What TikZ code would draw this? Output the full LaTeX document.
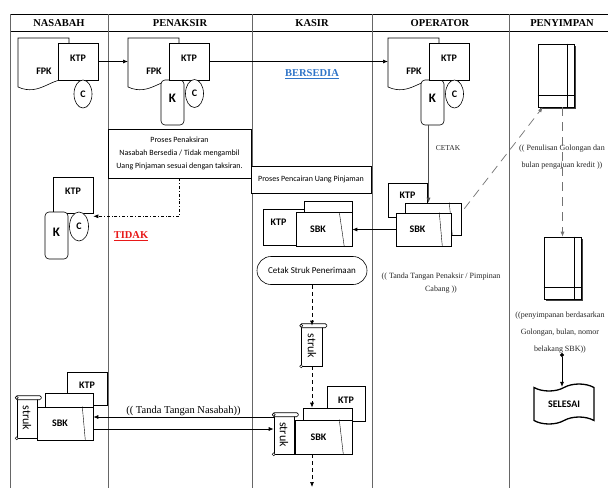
\documentclass[tikz,border=0pt]{standalone}
\usepackage{fontspec}
\setmainfont{Liberation Serif}
\newfontfamily\calibfont{Carlito}
\usepackage{tikz}
\usetikzlibrary{positioning, arrows.meta, calc, shapes.geometric, shapes.symbols, shadows}

\definecolor{linkblue}{RGB}{46,116,200}
\definecolor{tidakred}{RGB}{232,24,24}

\begin{document}
\begin{tikzpicture}[
  x=1pt, y=-1pt,
  >={Latex[length=5pt,width=4pt]},
  lane/.style={draw=black!60, line width=0.7pt},
  head/.style={font=\bfseries\fontsize{10.5}{12}\selectfont},
  tag/.style={inner sep=0pt, font=\calibfont\bfseries\fontsize{10}{11}\selectfont},
  card/.style={draw, fill=white, line width=0.6pt, inner sep=0pt, font=\calibfont\bfseries\fontsize{10}{11}\selectfont},
  ktpcard/.style={card, text depth=7pt},
  kcard/.style={card, rounded corners=4pt, minimum width=23pt, minimum height=45pt, text depth=9pt, font=\calibfont\bfseries\fontsize{13}{14}\selectfont},
  ccard/.style={card, ellipse, minimum width=18pt, minimum height=28pt},
  sheet/.style={card, minimum width=56pt, minimum height=34pt},
  scroll/.style={draw, fill=white, line width=0.6pt, inner sep=0pt, minimum width=21pt, minimum height=40pt, font=\calibfont\fontsize{12}{12}\selectfont},
  proc/.style={draw, fill=white, line width=0.6pt, inner sep=0pt, align=center, font=\calibfont\fontsize{8}{13}\selectfont},
  note/.style={align=center, inner sep=0pt, text=black!85, font=\fontsize{8}{17}\selectfont},
  store/.style={draw, fill=white, line width=0.6pt, inner sep=0pt, minimum width=36pt, minimum height=63pt, drop shadow={shadow xshift=1.5pt, shadow yshift=-1.5pt, fill=black!75, opacity=1}},
  arr/.style={->, line width=0.7pt},
  dashline/.style={arr, dash pattern=on 4pt off 3pt},
  longdash/.style={arr, draw=black!55, dash pattern=on 9pt off 6pt}
]
\path[use as bounding box, fill=white] (0,0) rectangle (608,488);

% swimlanes
\draw[lane, draw=black] (10,14) -- (608,14) (10,31) -- (608,31);
\foreach \x in {10,108,252,372,509}
  \draw[lane] (\x,14) -- (\x,488);
\node[head] (hNasabah) at (59,23) {NASABAH};
\node[head] (hPenaksir) at (180,23) {PENAKSIR};
\node[head] (hKasir) at (312,23) {KASIR};
\node[head] (hOperator) at (440,23) {OPERATOR};
\node[head] (hPenyimpan) at (562,23) {PENYIMPAN};

% FPK forms
\foreach \nm/\x in {A/18, B/128, C/388} {
  \draw[line width=0.6pt, fill=white] (\x,38) -- (\x+51,38) -- (\x+51,80) .. controls (\x+34,76) and (\x+22,97) .. (\x,87) -- cycle;
  \node[tag] (fpk\nm) at (\x+26,71) {FPK};
  \coordinate (doc\nm) at (\x,61.5);
}
\node[ktpcard, minimum width=40pt, minimum height=37pt] (ktpA) at (78,61.5) {KTP};
\node[ccard] (cA) at (83,94) {C};

\node[kcard] (kB) at (172.5,102.5) {K};
\node[ktpcard, minimum width=40pt, minimum height=37pt] (ktpB) at (189,61.5) {KTP};
\node[ccard] (cB) at (194.5,93.5) {C};

\node[kcard] (kC) at (432.5,102.5) {K};
\node[ktpcard, minimum width=40pt, minimum height=37pt] (ktpC) at (449,61.5) {KTP};
\node[ccard] (cC) at (454.5,94) {C};

\node[font=\bfseries\fontsize{10.5}{12}\selectfont, text=linkblue] (lblSedia) at (312,74) {\underline{BERSEDIA}};

% process boxes
\node[proc, minimum width=143pt, minimum height=49pt] (boxTaksir) at (179.5,153.5) {Proses Penaksiran\\Nasabah Bersedia / Tidak mengambil\\Uang Pinjaman sesuai dengan taksiran.};
\node[proc, minimum width=120pt, minimum height=27pt] (boxCair) at (311,179.5) {Proses Pencairan Uang Pinjaman};

% nasabah, tidak
\node[ktpcard, minimum width=40pt, minimum height=36pt] (ktpA2) at (73,195) {KTP};
\node[kcard, minimum height=47pt, text depth=7pt] (kA2) at (56.5,235.5) {K};
\node[ccard, minimum width=19pt, minimum height=29pt] (cA2) at (79,226.5) {C};
\node[font=\bfseries\fontsize{10.5}{12}\selectfont, text=tidakred] (lblTidak) at (131,236) {\underline{TIDAK}};

% kasir, SBK
\node[ktpcard, text depth=10pt, minimum width=41pt, minimum height=36pt] (ktpB2) at (283.5,227) {KTP\hspace*{10pt}};
\node[card, minimum width=48pt, minimum height=34pt] (sbkBb) at (328,218.5) {};
\node[sheet] (sbkB) at (324,229.5) {SBK\hspace*{12pt}};
\draw ($(sbkB.north east)+(-13,0)$) -- ($(sbkB.south east)+(-8,0)$);

% operator, SBK
\node[ktpcard, text depth=10pt, minimum width=39pt, minimum height=34pt] (ktpC2) at (407.5,200) {KTP};
\node[card, minimum width=56pt, minimum height=32pt] (sbkCb) at (433,219) {};
\draw ($(sbkCb.north east)+(-12,0)$) -- ($(sbkCb.south east)+(-9,0)$);
\node[sheet, minimum width=55pt, minimum height=33pt] (sbkC) at (423.5,229.5) {SBK\hspace*{12pt}};
\draw ($(sbkC.north east)+(-12,0)$) -- ($(sbkC.south east)+(-9,0)$);
\node[note, font=\fontsize{7.5}{9}\selectfont] (lblCetak) at (448,148) {CETAK};
\node[note, font=\fontsize{8}{13}\selectfont] (lblPimpinan) at (441,283.5) {(( Tanda Tangan Penaksir / Pimpinan\\Cabang ))};

% penyimpan
\node[store] (stA) at (556,75.5) {};
\node[store, minimum width=37pt, minimum height=62pt] (stB) at (562.5,268) {};
\foreach \s in {stA, stB} {
  \draw ($(\s.south west)+(0,-12)$) -- ($(\s.south east)+(0,-12)$);
  \draw ($(\s.north east)+(-7,0)$) -- ($(\s.south east)+(-7,0)$);
}
\node[note] (lblTulis) at (562,157.5) {(( Penulisan Golongan dan\\bulan pengajuan kredit ))};
\node[note] (lblSimpan) at (560,333) {((penyimpanan berdasarkan\\Golongan, bulan, nomor\\belakang SBK))};
\coordinate (dotS) at (562,353);
\node[tape, draw, line width=1.3pt, minimum width=60pt, minimum height=40pt, tape bend height=7pt, tag] (sel) at (564,404) {SELESAI};

% kasir, struk
\node[proc, rounded corners=14pt, minimum width=110pt, minimum height=28pt, font=\calibfont\fontsize{9}{11}\selectfont] (pillCetak) at (312,270.5) {Cetak Struk Penerimaan};
\node[scroll] (strukB) at (312,346) {\rotatebox{-90}{struk}};
\node[ktpcard, minimum width=38pt, minimum height=35pt] (ktpD) at (346,403.5) {KTP};
\node[card, minimum width=49pt, minimum height=46pt] (sbkDb) at (327.5,431) {};
\node[sheet, minimum width=57pt] (sbkD) at (323.5,437) {SBK\hspace*{10pt}};
\draw ($(sbkD.north east)+(-13,0)$) -- ($(sbkD.south east)+(-9,0)$);
\node[scroll, minimum width=20pt, minimum height=39pt] (strukD) at (284,434.5) {\rotatebox{-90}{struk}};
\coordinate (endK) at (312,487);

% nasabah, tanda tangan
\node[ktpcard, minimum width=40pt, minimum height=33pt] (ktpA3) at (87,388.5) {KTP};
\node[card, minimum width=48pt, minimum height=47pt] (sbkAb) at (69,416.5) {};
\node[sheet, minimum height=33pt] (sbkA) at (65,423.5) {SBK\hspace*{10pt}};
\draw ($(sbkA.north east)+(-11,0)$) -- ($(sbkA.south east)+(-8,0)$);
\node[scroll, minimum width=20pt] (strukA) at (27,418) {\rotatebox{-90}{struk}};

\foreach \s in {strukA, strukB, strukD} {
  \draw[fill=white, rounded corners=1.5pt, line width=0.6pt] ($(\s.north west)+(-1,-2)$) rectangle ($(\s.north east)+(4,2)$);
  \draw[fill=white, line width=0.5pt] (\s.north west) circle (1.5pt);
  \draw[fill=white, line width=0.5pt] (\s.south west) circle (1.5pt);
}

% flows
\draw[arr] (ktpA) -- (docB);
\draw[arr] (ktpB) -- (docC);
\draw[arr, dash dot] (boxTaksir.south) |- ($(ktpA2.south east)+(0,3)$);
\draw[arr, draw=black!70] ($(kC.south)+(-4,0)$) -- ($(kC.south |- sbkCb.north)+(-4,0)$);
\draw[arr] (sbkC.west) -- (sbkB.east);
\draw[longdash] ($(sbkCb.north east)+(3,6)$) -- ($(stA.south west)+(5,0)$);
\draw[longdash] (stB.north |- stA.south) -- (stB.north);
\draw[arr, {Circle[length=4pt]}->] (dotS) -- (dotS |- sel.north);
\draw[dashline] (pillCetak) -- (strukB);
\draw[dashline] (strukB) -- (strukB |- sbkDb.north);
\draw[dashline] (sbkD.south -| strukB) -- (endK);
\draw[arr] ($(strukD.west |- sbkA.east)+(0,-6.5)$) -- node[above, inner sep=1pt, font=\fontsize{10.5}{12}\selectfont] (lblNasabah) {(( Tanda Tangan Nasabah))} ($(sbkA.east)+(0,-6.5)$);
\draw[arr] ($(sbkA.east)+(0,5.5)$) -- ($(strukD.west |- sbkA.east)+(0,5.5)$);
\end{tikzpicture}
\end{document}
